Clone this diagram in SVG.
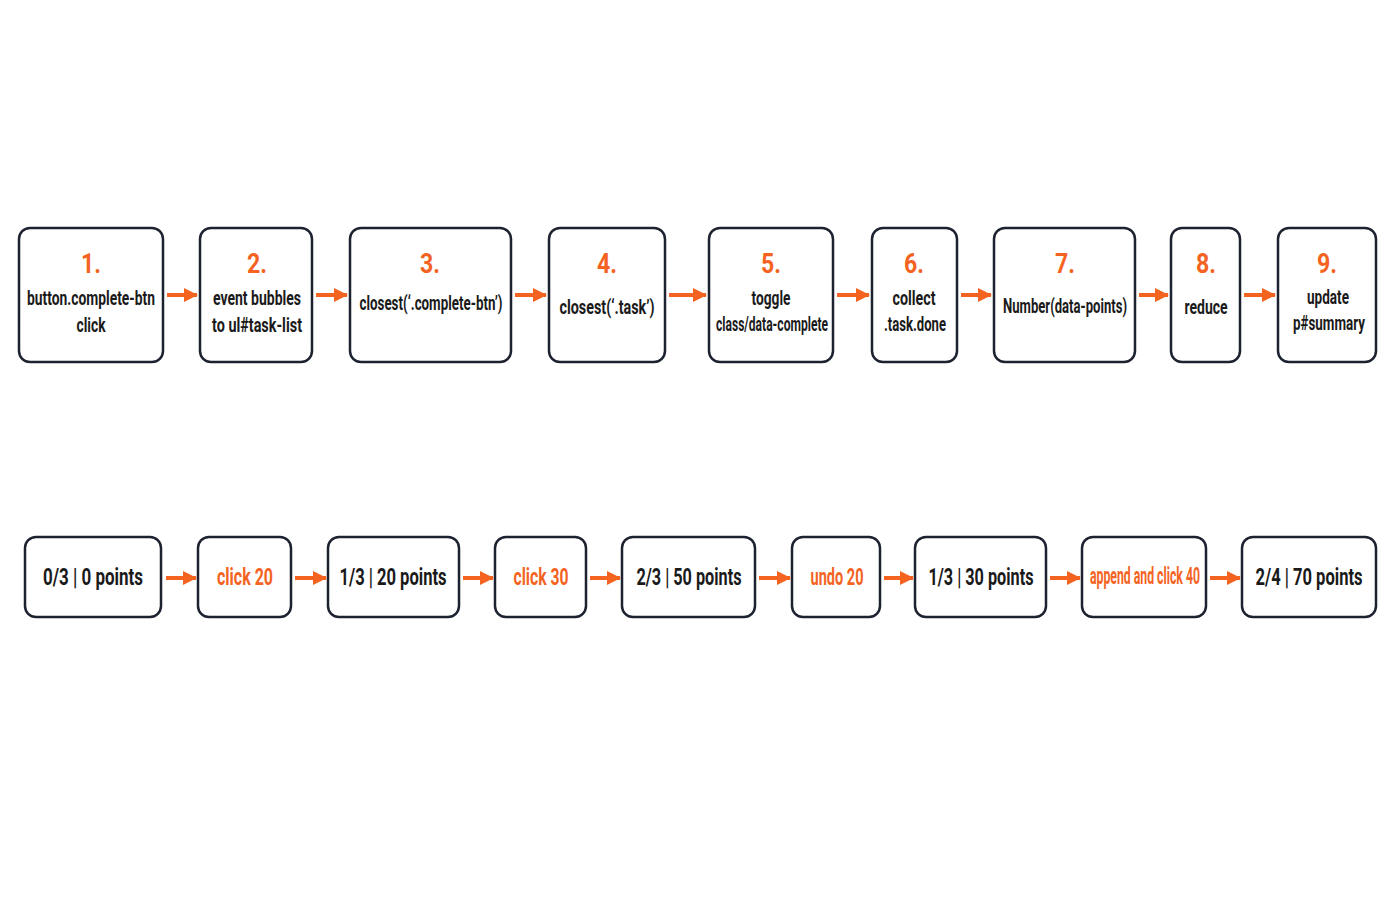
<svg xmlns="http://www.w3.org/2000/svg" width="1400" height="900" viewBox="0 0 1400 900">
<defs>
<marker id="ah" viewBox="0 0 14 14" refX="13" refY="7" markerWidth="14" markerHeight="14" markerUnits="userSpaceOnUse" orient="auto">
<path d="M0,0 L14,7 L0,14 Z" fill="#f4631f"/>
</marker>
<style>
.box{fill:#ffffff;stroke:#1d2230;stroke-width:2.5}
.num{font-family:Roboto,"Liberation Sans",sans-serif;font-weight:700;font-size:28px;fill:#f4631f;text-anchor:middle}
.t{font-family:Roboto,"Liberation Sans",sans-serif;font-weight:700;font-size:21px;fill:#1a1a1a;text-anchor:middle}
.b{font-family:Roboto,"Liberation Sans",sans-serif;font-weight:700;font-size:23px;fill:#1a1a1a;text-anchor:middle}
.bo{font-family:Roboto,"Liberation Sans",sans-serif;font-weight:700;font-size:23px;fill:#f4631f;text-anchor:middle}
.conn line{stroke:#f4631f;stroke-width:4;marker-end:url(#ah)}
</style>
</defs>
<rect width="1400" height="900" fill="#ffffff"/>

<g id="n1"><rect class="box" x="19" y="228" width="144" height="134" rx="11"/><text class="num" x="91" y="273" textLength="20" lengthAdjust="spacingAndGlyphs">1.</text><text class="t" x="91" y="305" textLength="128" lengthAdjust="spacingAndGlyphs">button.complete-btn</text><text class="t" x="91" y="332" textLength="29" lengthAdjust="spacingAndGlyphs">click</text></g>
<g id="n2"><rect class="box" x="200" y="228" width="112" height="134" rx="11"/><text class="num" x="257" y="273" textLength="20" lengthAdjust="spacingAndGlyphs">2.</text><text class="t" x="257" y="305" textLength="88" lengthAdjust="spacingAndGlyphs">event bubbles</text><text class="t" x="257" y="332" textLength="90" lengthAdjust="spacingAndGlyphs">to ul#task-list</text></g>
<g id="n3"><rect class="box" x="350" y="228" width="161" height="134" rx="11"/><text class="num" x="430" y="273" textLength="20" lengthAdjust="spacingAndGlyphs">3.</text><text class="t" x="431" y="310" textLength="143" lengthAdjust="spacingAndGlyphs">closest(‘.complete-btn’)</text></g>
<g id="n4"><rect class="box" x="549" y="228" width="116" height="134" rx="11"/><text class="num" x="607" y="273" textLength="20" lengthAdjust="spacingAndGlyphs">4.</text><text class="t" x="607" y="314" textLength="95" lengthAdjust="spacingAndGlyphs">closest(‘.task’)</text></g>
<g id="n5"><rect class="box" x="709" y="228" width="124" height="134" rx="11"/><text class="num" x="771" y="273" textLength="20" lengthAdjust="spacingAndGlyphs">5.</text><text class="t" x="771" y="305" textLength="39" lengthAdjust="spacingAndGlyphs">toggle</text><text class="t" x="772" y="331" textLength="112" lengthAdjust="spacingAndGlyphs">class/data-complete</text></g>
<g id="n6"><rect class="box" x="872" y="228" width="85" height="134" rx="11"/><text class="num" x="914" y="273" textLength="20" lengthAdjust="spacingAndGlyphs">6.</text><text class="t" x="914" y="305" textLength="43" lengthAdjust="spacingAndGlyphs">collect</text><text class="t" x="915" y="331" textLength="62" lengthAdjust="spacingAndGlyphs">.task.done</text></g>
<g id="n7"><rect class="box" x="994" y="228" width="141" height="134" rx="11"/><text class="num" x="1065" y="273" textLength="20" lengthAdjust="spacingAndGlyphs">7.</text><text class="t" x="1065" y="313" textLength="124" lengthAdjust="spacingAndGlyphs">Number(data-points)</text></g>
<g id="n8"><rect class="box" x="1171" y="228" width="69" height="134" rx="11"/><text class="num" x="1206" y="273" textLength="20" lengthAdjust="spacingAndGlyphs">8.</text><text class="t" x="1206" y="314" textLength="43" lengthAdjust="spacingAndGlyphs">reduce</text></g>
<g id="n9"><rect class="box" x="1278" y="228" width="98" height="134" rx="11"/><text class="num" x="1327" y="273" textLength="20" lengthAdjust="spacingAndGlyphs">9.</text><text class="t" x="1328" y="304" textLength="42" lengthAdjust="spacingAndGlyphs">update</text><text class="t" x="1329" y="330" textLength="72" lengthAdjust="spacingAndGlyphs">p#summary</text></g>

<g id="s1"><rect class="box" x="25" y="537" width="136" height="80" rx="11"/><text class="b" x="93" y="585" textLength="100" lengthAdjust="spacingAndGlyphs">0/3 | 0 points</text></g>
<g id="s2"><rect class="box" x="198" y="537" width="93" height="80" rx="11"/><text class="bo" x="245" y="585" textLength="56" lengthAdjust="spacingAndGlyphs">click 20</text></g>
<g id="s3"><rect class="box" x="328" y="537" width="131" height="80" rx="11"/><text class="b" x="393" y="585" textLength="107" lengthAdjust="spacingAndGlyphs">1/3 | 20 points</text></g>
<g id="s4"><rect class="box" x="495" y="537" width="91" height="80" rx="11"/><text class="bo" x="541" y="585" textLength="55" lengthAdjust="spacingAndGlyphs">click 30</text></g>
<g id="s5"><rect class="box" x="622" y="537" width="133" height="80" rx="11"/><text class="b" x="689" y="585" textLength="105" lengthAdjust="spacingAndGlyphs">2/3 | 50 points</text></g>
<g id="s6"><rect class="box" x="792" y="537" width="88" height="80" rx="11"/><text class="bo" x="837" y="585" textLength="53" lengthAdjust="spacingAndGlyphs">undo 20</text></g>
<g id="s7"><rect class="box" x="915" y="537" width="131" height="80" rx="11"/><text class="b" x="981" y="585" textLength="105" lengthAdjust="spacingAndGlyphs">1/3 | 30 points</text></g>
<g id="s8"><rect class="box" x="1082" y="537" width="124" height="80" rx="11"/><text class="bo" x="1145" y="584" font-size="20" textLength="110" lengthAdjust="spacingAndGlyphs">append and click 40</text></g>
<g id="s9"><rect class="box" x="1242" y="537" width="134" height="80" rx="11"/><text class="b" x="1309" y="585" textLength="107" lengthAdjust="spacingAndGlyphs">2/4 | 70 points</text></g>

<g id="connectors" class="conn">
<line x1="167" y1="295" x2="197" y2="295"/>
<line x1="316" y1="295" x2="347" y2="295"/>
<line x1="515" y1="295" x2="546" y2="295"/>
<line x1="669" y1="295" x2="706" y2="295"/>
<line x1="837" y1="295" x2="869" y2="295"/>
<line x1="961" y1="295" x2="991" y2="295"/>
<line x1="1139" y1="295" x2="1168" y2="295"/>
<line x1="1244" y1="295" x2="1275" y2="295"/>
<line x1="166" y1="578" x2="196" y2="578"/>
<line x1="295" y1="578" x2="326" y2="578"/>
<line x1="463" y1="578" x2="493" y2="578"/>
<line x1="590" y1="578" x2="620" y2="578"/>
<line x1="759" y1="578" x2="790" y2="578"/>
<line x1="884" y1="578" x2="913" y2="578"/>
<line x1="1050" y1="578" x2="1080" y2="578"/>
<line x1="1210" y1="578" x2="1240" y2="578"/>
</g>
</svg>
